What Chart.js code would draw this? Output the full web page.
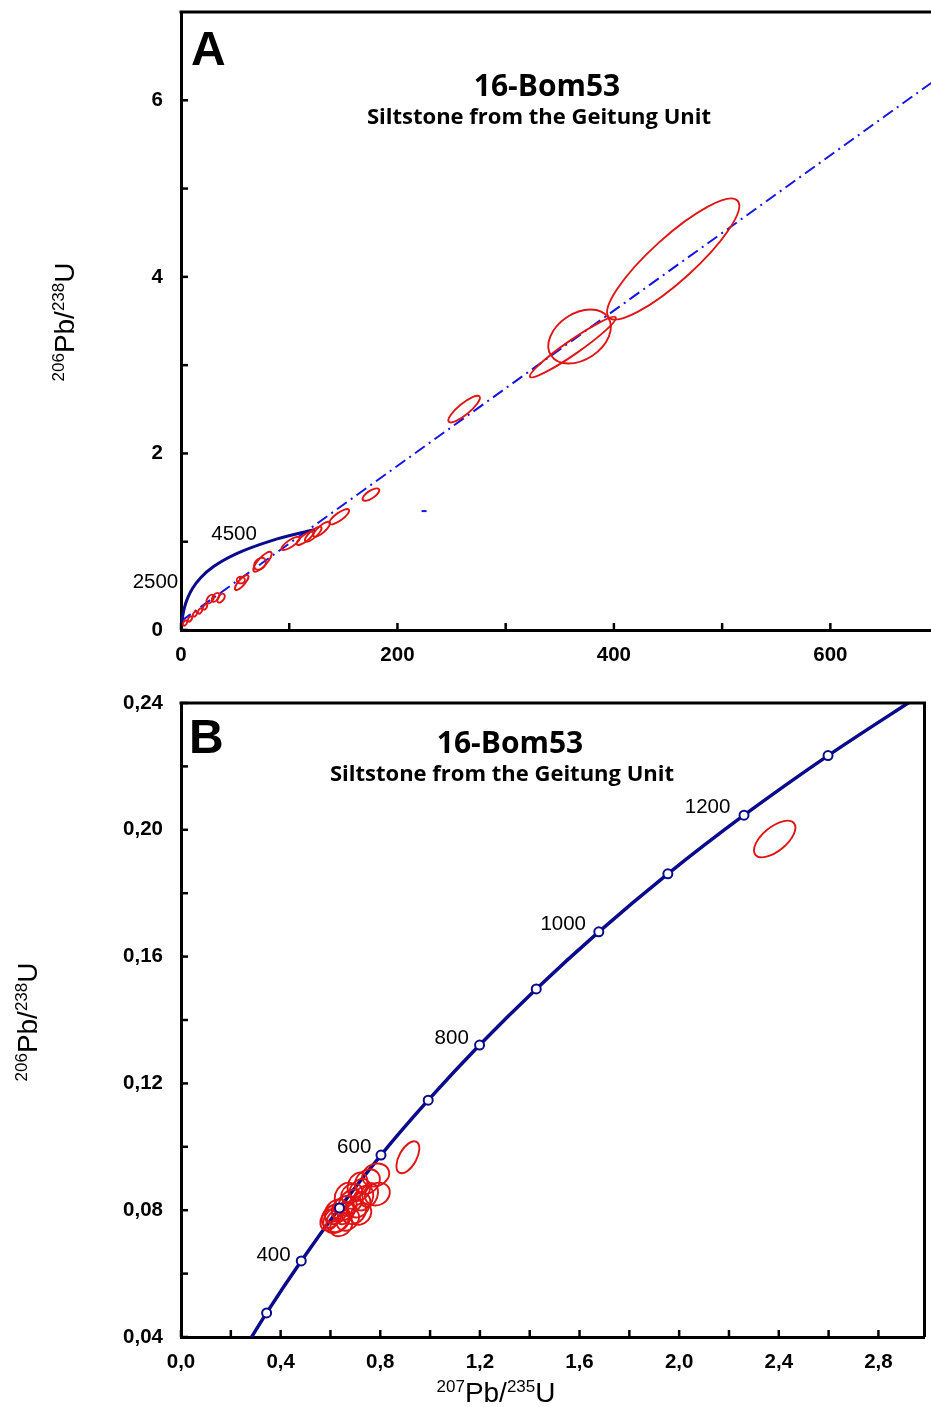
<!DOCTYPE html>
<html>
<head>
<meta charset="utf-8">
<script src="https://cdn.jsdelivr.net/npm/chart.js@4.4.1/dist/chart.umd.min.js"></script>
<style>
  body { margin: 0; background: #fff; }
  .panel { position: absolute; left: 0; }
</style>
</head>
<body>
<div class="panel" style="top:0"><canvas id="chartA" width="931" height="680"></canvas></div>
<div class="panel" style="top:680px"><canvas id="chartB" width="931" height="727"></canvas></div>
<script>
// ---- panel A : full concordia, 0 - 4900 Ma
const concAX = [0, 0.279, 0.636, 1.677, 3.381, 6.168, 10.73, 18.19, 30.41, 50.38, 83.08, 123.7];
const concAY = [0, 0.0395, 0.0807, 0.1678, 0.2620, 0.3638, 0.4737, 0.5926, 0.7210, 0.8599, 1.0098, 1.1386];
const discordX = [0, 700];
const discordY = [0.1, 6.256];
const strayX = [222.3, 226.9];
const strayY = [1.347, 1.347];
// ellipses: [207/235, 206/238, sx, sy, rho]
const ellipsesA = [
  [454.8, 4.202, 61.0, 0.685, 0.88],
  [368.3, 3.325, 28.9, 0.306, 0.35],
  [362.1, 3.204, 39.7, 0.343, 0.96],
  [261.6, 2.502, 14.6, 0.151, 0.85],
  [175.5, 1.534, 7.7, 0.070, 0.7],
  [146.2, 1.283, 9.2, 0.087, 0.8],
  [130.0, 1.141, 7.7, 0.085, 0.8],
  [122.2, 1.085, 7.7, 0.085, 0.8],
  [114.5, 1.038, 7.7, 0.075, 0.8],
  [101.4, 0.981, 8.5, 0.075, 0.8],
  [75.3, 0.773, 8.5, 0.113, 0.8],
  [73.0, 0.750, 5.5, 0.068, 0.3],
  [56.1, 0.538, 6.2, 0.085, 0.8],
  [55.3, 0.566, 3.8, 0.038, 0.0],
  [27.0, 0.350, 3.5, 0.050, 0.5],
  [32.0, 0.370, 3.5, 0.050, 0.5],
  [37.0, 0.360, 3.5, 0.050, 0.5],
  [3.7, 0.079, 2.0, 0.030, 0.5],
  [8.3, 0.125, 2.0, 0.030, 0.5],
  [12.9, 0.181, 2.0, 0.030, 0.5],
  [17.6, 0.215, 2.0, 0.030, 0.5],
  [22.2, 0.260, 2.0, 0.030, 0.5]
];
const ageLabelsA = ['4500', '2500'];
const ageLabelAX = [49.0, -23.6];
const ageLabelAY = [1.019, 0.4755];
const xTicksA = [0, 100, 200, 300, 400, 500, 600];
const xLabelsA = [0, 200, 400, 600];
const yTicksA = [0, 1, 2, 3, 4, 5, 6];
const yLabelsA = [0, 2, 4, 6];

// ---- panel B : zoom 200 - 1400 Ma
const concBX = [0.2177, 0.3437, 0.4828, 0.6362, 0.8029, 0.9925, 1.1987, 1.4264, 1.6774, 1.9546, 2.2604, 2.5977, 2.9703];
const concBY = [0.0315, 0.0476, 0.0640, 0.0807, 0.0974, 0.1147, 0.1321, 0.1498, 0.1678, 0.1861, 0.2046, 0.2234, 0.2426];
const markerBX = [0.3437, 0.4828, 0.6362, 0.8029, 0.9925, 1.1987, 1.4264, 1.6774, 1.9546, 2.2604, 2.5977];
const markerBY = [0.0476, 0.0640, 0.0807, 0.0974, 0.1147, 0.1321, 0.1498, 0.1678, 0.1861, 0.2046, 0.2234];
const ellipsesB = [
  [0.6254, 0.0770, 0.054, 0.0042, 0.25],
  [0.6222, 0.0795, 0.046, 0.0039, 0.25],
  [0.6553, 0.0806, 0.050, 0.0039, 0.25],
  [0.6821, 0.0827, 0.048, 0.0038, 0.25],
  [0.6953, 0.0795, 0.048, 0.0039, 0.2],
  [0.7153, 0.0816, 0.045, 0.0039, 0.25],
  [0.7221, 0.0788, 0.042, 0.0034, 0.2],
  [0.7181, 0.0864, 0.042, 0.0035, 0.25],
  [0.7485, 0.0890, 0.050, 0.0039, 0.2],
  [0.7820, 0.0911, 0.054, 0.0036, 0.15],
  [0.7884, 0.0851, 0.050, 0.0036, 0.15],
  [0.6853, 0.0854, 0.042, 0.0030, 0.25],
  [0.6621, 0.0848, 0.045, 0.0039, 0.25],
  [0.6286, 0.0768, 0.045, 0.0037, 0.25],
  [0.6154, 0.0791, 0.038, 0.0028, 0.25],
  [0.7321, 0.0838, 0.040, 0.0039, 0.25],
  [0.6553, 0.0791, 0.040, 0.0035, 0.25],
  [0.7085, 0.0880, 0.040, 0.0039, 0.25],
  [0.5954, 0.0769, 0.036, 0.0033, 0.25],
  [0.6434, 0.0751, 0.045, 0.0033, 0.25],
  [0.7553, 0.0848, 0.036, 0.0038, 0.25],
  [0.6050, 0.0780, 0.040, 0.0035, 0.25],
  [0.6700, 0.0770, 0.045, 0.0035, 0.25],
  [0.911, 0.0967, 0.046, 0.00505, 0.55],
  [2.3836, 0.1971, 0.0831, 0.00577, 0.62]
];
const ageLabelsB = ['400', '600', '800', '1000', '1200'];
const ageLabelBX = [0.3716, 0.6953, 1.0869, 1.5345, 2.1139];
const ageLabelBY = [0.0640, 0.0980, 0.1324, 0.1684, 0.2053];
const xTicksB = [0, 0.2, 0.4, 0.6, 0.8, 1.0, 1.2, 1.4, 1.6, 1.8, 2.0, 2.2, 2.4, 2.6, 2.8];
const xLabelsB = [0, 0.4, 0.8, 1.2, 1.6, 2.0, 2.4, 2.8];
const yTicksB = [0.04, 0.06, 0.08, 0.10, 0.12, 0.14, 0.16, 0.18, 0.20, 0.22, 0.24];
const yLabelsB = [0.04, 0.08, 0.12, 0.16, 0.20, 0.24];

const sampleName = '16-Bom53';
const sampleDesc = 'Siltstone from the Geitung Unit';

const NAVY = '#0a0a8c';
const RED = '#e01414';
const TICK_FONT = { family: '"Liberation Sans", Arial, sans-serif', size: 20.5, weight: 'bold' };

function pts(xs, ys) {
  return xs.map((x, i) => ({ x: x, y: ys[i] }));
}

function hasVal(list, v) {
  return list.some(l => Math.abs(l - v) < 1e-9);
}

function drawEllipses(chart, list) {
  const ctx = chart.ctx, xs = chart.scales.x, ys = chart.scales.y, area = chart.chartArea;
  ctx.save();
  ctx.beginPath();
  ctx.rect(area.left, area.top, area.right - area.left, area.bottom - area.top);
  ctx.clip();
  ctx.strokeStyle = RED;
  ctx.lineWidth = 1.9;
  list.forEach(e => {
    const cx = xs.getPixelForValue(e[0]);
    const cy = ys.getPixelForValue(e[1]);
    const Sx = Math.abs(xs.getPixelForValue(e[0] + e[2]) - cx);
    const Sy = Math.abs(ys.getPixelForValue(e[1] + e[3]) - cy);
    const c = -e[4] * Sx * Sy;
    const a2 = Sx * Sx, b2 = Sy * Sy;
    const mid = (a2 + b2) / 2;
    const d = Math.sqrt(((a2 - b2) / 2) ** 2 + c * c);
    const th = 0.5 * Math.atan2(2 * c, a2 - b2);
    ctx.beginPath();
    ctx.ellipse(cx, cy, Math.sqrt(mid + d), Math.sqrt(Math.max(mid - d, 0.2)), th, 0, 2 * Math.PI);
    ctx.stroke();
  });
  ctx.restore();
}

// text with superscript isotopes, parts = [[text, isSup], ...]
function drawIsotope(ctx, parts, x, y, rotate) {
  const big = '28px "Liberation Sans", Arial, sans-serif';
  const small = '17px "Liberation Sans", Arial, sans-serif';
  let total = 0;
  parts.forEach(p => { ctx.font = p[1] ? small : big; total += ctx.measureText(p[0]).width; });
  ctx.save();
  ctx.translate(x, y);
  if (rotate) ctx.rotate(-Math.PI / 2);
  ctx.fillStyle = '#000';
  ctx.textAlign = 'left';
  ctx.textBaseline = 'alphabetic';
  let pos = -total / 2;
  parts.forEach(p => {
    ctx.font = p[1] ? small : big;
    ctx.fillText(p[0], pos, p[1] ? -10 : 0);
    pos += ctx.measureText(p[0]).width;
  });
  ctx.restore();
}

function decorPlugin(cfg) {
  return {
    id: 'decor',
    afterDatasetDraw(chart, args) {
      if (args.index === cfg.ellipseAfter) drawEllipses(chart, cfg.ellipses);
    },
    afterDraw(chart) {
      const ctx = chart.ctx, area = chart.chartArea;
      const xs = chart.scales.x, ys = chart.scales.y;
      ctx.save();
      // inward tick marks
      ctx.strokeStyle = '#000';
      ctx.lineWidth = 2.5;
      xs.ticks.forEach(t => {
        const px = xs.getPixelForValue(t.value);
        ctx.beginPath(); ctx.moveTo(px, area.bottom); ctx.lineTo(px, area.bottom - 7); ctx.stroke();
      });
      ys.ticks.forEach(t => {
        const py = ys.getPixelForValue(t.value);
        ctx.beginPath(); ctx.moveTo(area.left, py); ctx.lineTo(area.left + 7, py); ctx.stroke();
      });
      // frame
      ctx.lineWidth = 3;
      ctx.beginPath();
      ctx.moveTo(area.left - 1.5, area.top);
      ctx.lineTo(area.right, area.top);
      if (cfg.rightBorder) ctx.lineTo(area.right, area.bottom);
      ctx.stroke();

      // panel letter and titles
      ctx.fillStyle = '#000';
      ctx.textBaseline = 'alphabetic';
      ctx.textAlign = 'left';
      ctx.font = 'bold 48px "Liberation Sans", Arial, sans-serif';
      ctx.fillText(cfg.letter, cfg.letterX, cfg.letterY);
      ctx.textAlign = 'center';
      ctx.font = 'bold 30px "Open Sans", sans-serif';
      ctx.fillText(sampleName, cfg.titleX, cfg.titleY);
      ctx.font = 'bold 22px "Open Sans", sans-serif';
      ctx.fillText(sampleDesc, cfg.subX, cfg.subY);

      // age labels along concordia
      ctx.font = '20.5px "Liberation Sans", Arial, sans-serif';
      cfg.ageLabels.forEach((s, i) => {
        ctx.fillText(s, xs.getPixelForValue(cfg.ageX[i]), ys.getPixelForValue(cfg.ageY[i]));
      });
      ctx.restore();

      drawIsotope(ctx, [['206', true], ['Pb/', false], ['238', true], ['U', false]], cfg.yTitleX, cfg.yTitleY, true);
      if (cfg.xTitle) {
        drawIsotope(ctx, [['207', true], ['Pb/', false], ['235', true], ['U', false]], cfg.xTitleX, cfg.xTitleY, false);
      }
    }
  };
}

function axis(min, max, tickList, labelList, fmt, isY, size, pad) {
  return {
    type: 'linear',
    min: min,
    max: max,
    grid: { display: false, drawTicks: false },
    border: { display: true, color: '#000', width: 3 },
    afterBuildTicks: s => { s.ticks = tickList.map(v => ({ value: v })); },
    afterFit: s => {
      if (isY) s.width = size; else s.height = size;
      s.paddingTop = 0; s.paddingBottom = 0; s.paddingLeft = 0; s.paddingRight = 0;
    },
    ticks: {
      autoSkip: false,
      maxRotation: 0,
      minRotation: 0,
      padding: pad,
      color: '#000',
      font: TICK_FONT,
      callback: v => hasVal(labelList, v) ? fmt(v) : ''
    }
  };
}

const chartA = new Chart(document.getElementById('chartA'), {
  type: 'scatter',
  data: {
    datasets: [
      {
        label: 'Concordia',
        data: pts(concAX, concAY),
        showLine: true,
        borderColor: NAVY,
        borderWidth: 3,
        pointRadius: 0,
        cubicInterpolationMode: 'monotone'
      },
      {
        label: 'Discordia',
        data: pts(discordX, discordY),
        showLine: true,
        borderColor: '#1414e6',
        borderWidth: 2,
        borderDash: [12, 5, 2, 5],
        pointRadius: 0
      },
      {
        label: 'dash',
        data: pts(strayX, strayY),
        showLine: true,
        borderColor: '#1414e6',
        borderWidth: 2,
        pointRadius: 0
      }
    ]
  },
  options: {
    responsive: false,
    animation: false,
    layout: { padding: { top: 12, right: 0, left: 0, bottom: 0 } },
    plugins: { legend: { display: false }, tooltip: { enabled: false } },
    scales: {
      x: axis(0, 693, xTicksA, xLabelsA, v => String(v), false, 50, 13),
      y: axis(0, 7, yTicksA, yLabelsA, v => String(v), true, 181, 18)
    }
  },
  plugins: [decorPlugin({
    ellipses: ellipsesA, ellipseAfter: 0, rightBorder: false,
    letter: 'A', letterX: 191, letterY: 65,
    titleX: 547, titleY: 96, subX: 539, subY: 124,
    ageLabels: ageLabelsA, ageX: ageLabelAX, ageY: ageLabelAY,
    yTitleX: 74, yTitleY: 322, xTitle: false
  })]
});

const chartB = new Chart(document.getElementById('chartB'), {
  type: 'scatter',
  data: {
    datasets: [
      {
        label: 'Age markers',
        data: pts(markerBX, markerBY),
        pointRadius: 4.5,
        pointBorderWidth: 2,
        pointBackgroundColor: '#fff',
        pointBorderColor: NAVY
      },
      {
        label: 'Concordia',
        data: pts(concBX, concBY),
        showLine: true,
        borderColor: NAVY,
        borderWidth: 3.5,
        pointRadius: 0,
        cubicInterpolationMode: 'monotone'
      }
    ]
  },
  options: {
    responsive: false,
    animation: false,
    layout: { padding: { top: 23, right: 3, left: 0, bottom: 0 } },
    plugins: { legend: { display: false }, tooltip: { enabled: false } },
    scales: {
      x: axis(0, 2.985, xTicksB, xLabelsB, v => v.toFixed(1).replace('.', ','), false, 70, 13),
      y: axis(0.04, 0.24, yTicksB, yLabelsB, v => v.toFixed(2).replace('.', ','), true, 181, 18)
    }
  },
  plugins: [decorPlugin({
    ellipses: ellipsesB, ellipseAfter: 1, rightBorder: true,
    letter: 'B', letterX: 189, letterY: 73,
    titleX: 510, titleY: 73, subX: 502, subY: 101,
    ageLabels: ageLabelsB, ageX: ageLabelBX, ageY: ageLabelBY,
    yTitleX: 37, yTitleY: 342, xTitle: true, xTitleX: 496, xTitleY: 722
  })]
});
</script>
</body>
</html>
